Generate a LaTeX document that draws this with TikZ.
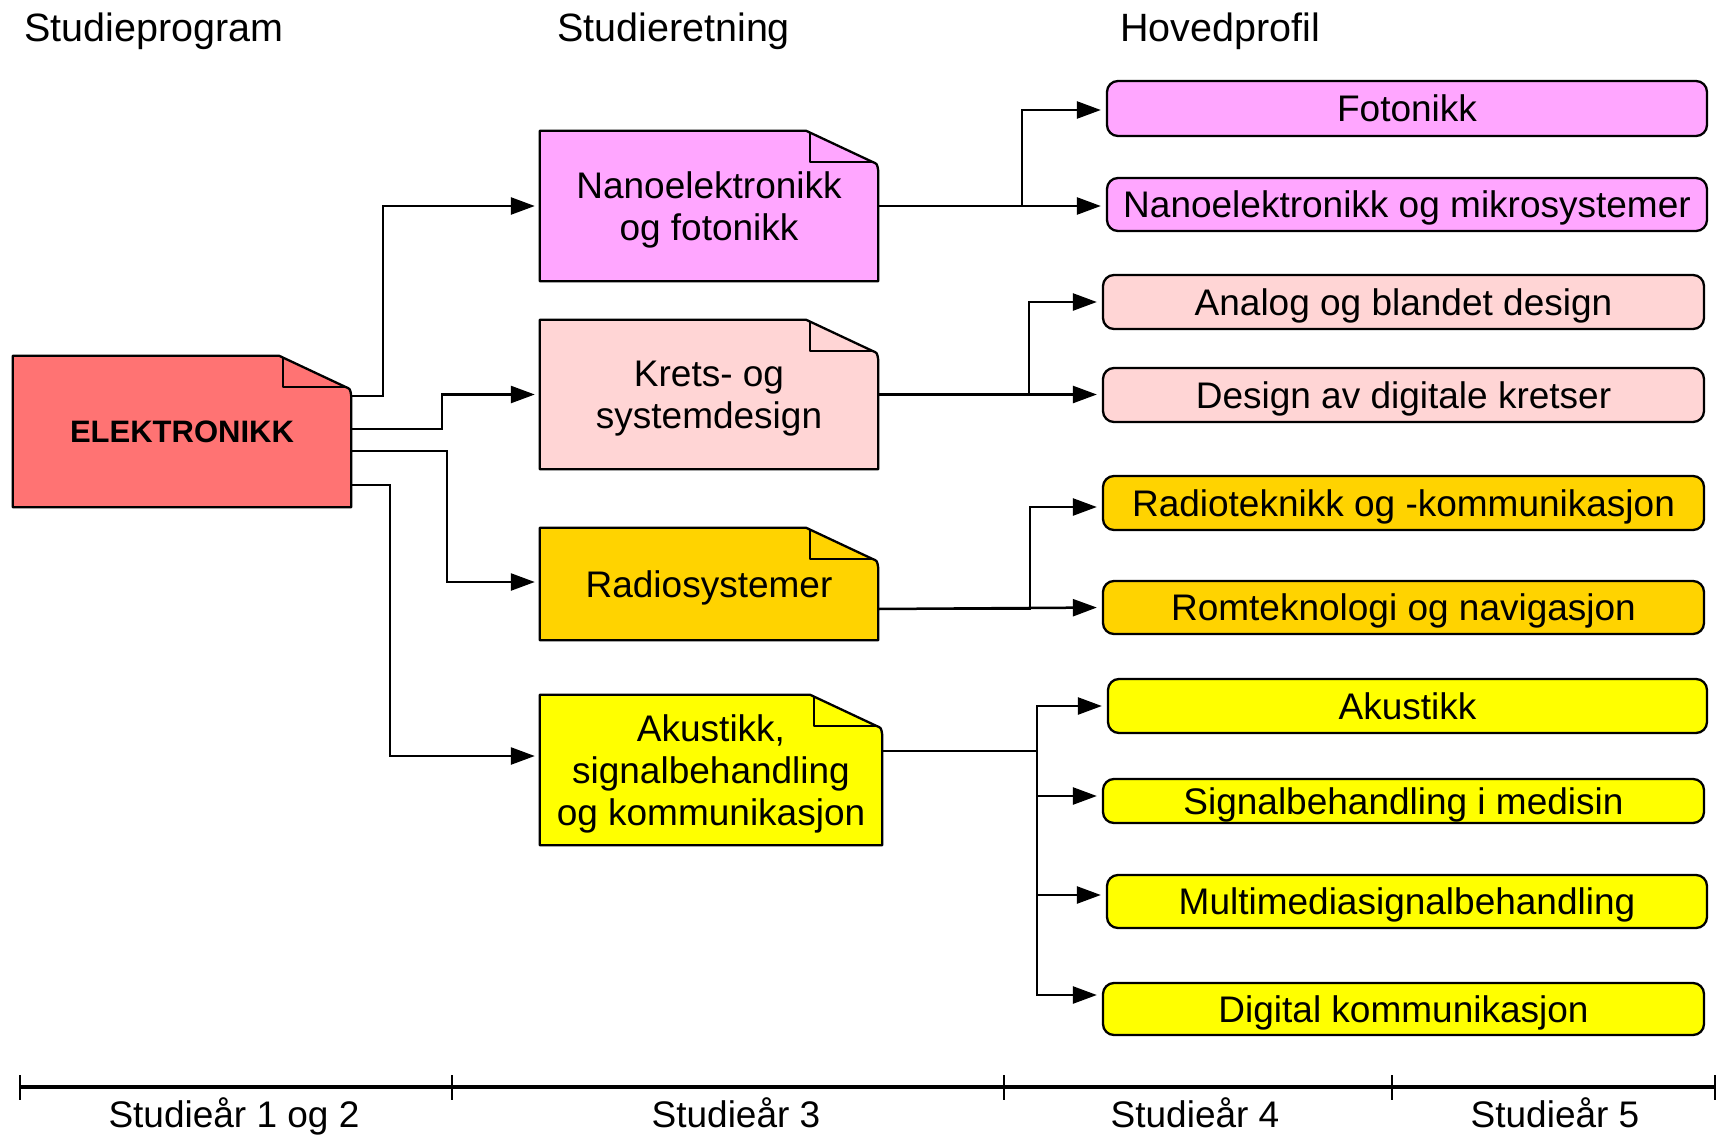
\documentclass[tikz,border=0pt]{standalone}
\usepackage{fontspec}
\setmainfont{Liberation Sans}
\usetikzlibrary{arrows.meta,backgrounds}
\definecolor{cred}{HTML}{FF7373}
\definecolor{cmag}{HTML}{FFA6FF}
\definecolor{cpink}{HTML}{FFD5D5}
\definecolor{cgold}{HTML}{FFD300}
\definecolor{cyel}{HTML}{FFFF00}
\newcommand\docoutline[2]{%
  \draw[docline, fill=#2] (#1.south west) -- (#1.north west) -- ([xshift=-72pt]#1.north east)
    -- ([xshift=-6pt,yshift=-31pt]#1.north east)
    .. controls ([xshift=-1pt,yshift=-33pt]#1.north east) .. ([yshift=-40pt]#1.north east)
    -- (#1.south east) -- cycle;
  \draw[docline] ([xshift=-68pt,yshift=-2pt]#1.north east) -- ([xshift=-68pt,yshift=-31pt]#1.north east)
    -- ([xshift=-6pt,yshift=-31pt]#1.north east);}
\begin{document}
\begin{tikzpicture}[x=1pt,y=-1pt,
  docline/.style={line width=2.3pt, line join=round},
  docbox/.style={align=center, font=\fontsize{37}{42}\selectfont, inner sep=0pt, text depth=0pt},
  profbox/.style={draw, line width=2.3pt, rounded corners=11pt, inner sep=0pt, text depth=0pt,
    font=\fontsize{37}{42}\selectfont, minimum height=54pt, minimum width=601pt},
  conn/.style={line width=2.5pt, -{Triangle[length=24pt,width=17pt]}, shorten >=5pt},
  title/.style={anchor=base west, inner sep=0pt, font=\fontsize{39.5}{44}\selectfont},
  yearlab/.style={anchor=base, inner sep=0pt, font=\fontsize{37}{42}\selectfont},
  axisline/.style={line width=4pt},
  tick/.style={line width=2.5pt}]
\useasboundingbox (0,0) rectangle (1718,1135);

% titles
\node[title] (tprog) at (24,41) {Studieprogram};
\node[title] (tretn) at (557,41) {Studieretning};
\node[title] (thov) at (1120,41) {Hovedprofil};

% document-shaped boxes
\node[docbox, minimum width=338pt, minimum height=151pt, font=\fontsize{31}{36}\selectfont\bfseries] (elek) at (182,431.5) {ELEKTRONIKK};
\node[docbox, minimum width=338pt, minimum height=150pt] (nano) at (709,206) {Nanoelektronikk\\og fotonikk};
\node[docbox, minimum width=338pt, minimum height=149pt] (krets) at (709,394.5) {Krets- og\\systemdesign};
\node[docbox, minimum width=338pt, minimum height=112pt] (radio) at (709,584) {Radiosystemer};
\node[docbox, minimum width=342pt, minimum height=150pt] (akus) at (711,770) {Akustikk,\\signalbehandling\\og kommunikasjon};

\begin{scope}[on background layer]
\docoutline{elek}{cred}
\docoutline{nano}{cmag}
\docoutline{krets}{cpink}
\docoutline{radio}{cgold}
\docoutline{akus}{cyel}
\end{scope}

% profile boxes
\node[profbox, fill=cmag, minimum width=600pt, minimum height=55pt] (foto) at (1407,108.5) {Fotonikk};
\node[profbox, fill=cmag, minimum width=600pt, minimum height=53pt] (nmik) at (1407,204.5) {Nanoelektronikk og mikrosystemer};
\node[profbox, fill=cpink] (analog) at (1403.5,302) {Analog og blandet design};
\node[profbox, fill=cpink] (design) at (1403.5,395) {Design av digitale kretser};
\node[profbox, fill=cgold] (radiot) at (1403.5,503) {Radioteknikk og -kommunikasjon};
\node[profbox, fill=cgold, minimum height=53pt] (romtek) at (1403.5,607.5) {Romteknologi og navigasjon};
\node[profbox, fill=cyel, minimum width=599pt] (akust) at (1407.5,706) {Akustikk};
\node[profbox, fill=cyel, minimum height=44pt] (signal) at (1403.5,801) {Signalbehandling i medisin};
\node[profbox, fill=cyel, minimum width=600pt, minimum height=53pt] (multi) at (1407,901.5) {Multimediasignalbehandling};
\node[profbox, fill=cyel, minimum height=52pt] (digital) at (1403.5,1009) {Digital kommunikasjon};

% connectors from ELEKTRONIKK
\draw[conn] ([yshift=-40pt]elek.north east) -- ++(32,0) |- (nano.west);
\draw[conn] ([yshift=-73pt]elek.north east) -- ++(91,0) |- (krets.west);
\draw[conn] ([yshift=-95pt]elek.north east) -- ++(96,0) |- ([yshift=2pt]radio.west);
\draw[conn] ([yshift=-129pt]elek.north east) -- ++(39,0) |- ([yshift=14pt]akus.west);

% connectors to profiles
\draw[conn] (nano.east) -- (nano.east -| nmik.west);
\draw[conn] (nano.east) -- ++(144,0) |- ([yshift=-1.5pt]foto.west);
\draw[conn] (krets.east) -- (krets.east -| design.west);
\draw[conn] (krets.east) -- ++(151,0) |- (analog.west);
\draw[conn] ([yshift=-25pt]radio.east) -- (romtek.west);
\draw[conn] ([yshift=-25pt]radio.east) -- ++(152,0) |- ([yshift=-4pt]radiot.west);
\draw[conn] ([yshift=19pt]akus.east) -- ++(155,0) |- (akust.west);
\draw[conn] ([yshift=19pt]akus.east) -- ++(155,0) |- ([yshift=5pt]signal.west);
\draw[conn] ([yshift=19pt]akus.east) -- ++(155,0) |- ([yshift=6.5pt]multi.west);
\draw[conn] ([yshift=19pt]akus.east) -- ++(155,0) |- ([yshift=14pt]digital.west);

% timeline
\coordinate (t0) at (20,1087);
\coordinate (t1) at (452,1087);
\coordinate (t2) at (1004,1087);
\coordinate (t3) at (1392,1087);
\coordinate (t4) at (1715,1087);
\draw[axisline] (t0) -- (t4);
\foreach \t in {t0,t1,t2,t3,t4}{\draw[tick] ([yshift=12pt]\t) -- ([yshift=-13pt]\t);}
\node[yearlab] (y12) at (234,1127) {Studieår 1 og 2};
\node[yearlab] (y3) at (736,1127) {Studieår 3};
\node[yearlab] (y4) at (1195,1127) {Studieår 4};
\node[yearlab] (y5) at (1555,1127) {Studieår 5};
\end{tikzpicture}
\end{document}
